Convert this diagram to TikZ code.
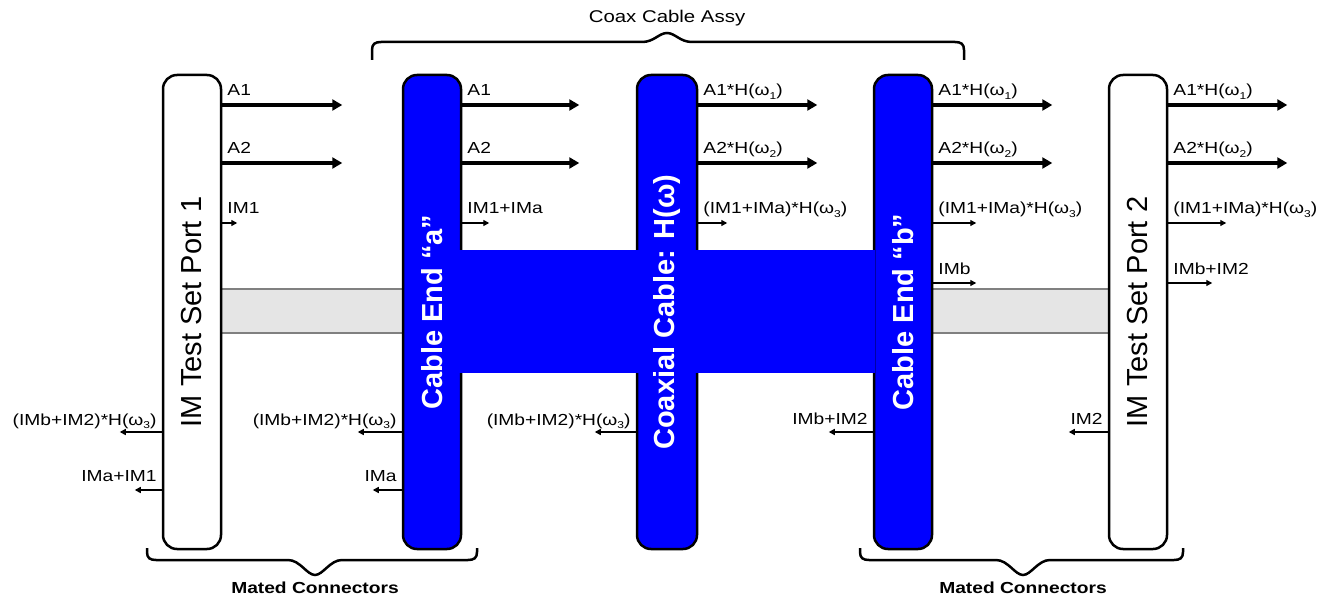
\documentclass[tikz,border=0pt]{standalone}
\usepackage{fontspec}
\setmainfont{Liberation Sans}
\newfontfamily\lbl[FakeStretch=1.2]{Liberation Sans}
\usetikzlibrary{arrows.meta}
\newcommand\wsub[1]{\raisebox{-0.4ex}{\fontsize{10}{10}\selectfont #1}}
\begin{document}
\begin{tikzpicture}[x=1pt,y=-1pt,
  port/.style={draw=black, line width=2.5pt, fill=white, rounded corners=14pt,
    minimum width=58pt, minimum height=474pt, inner sep=0pt,
    font=\fontsize{29}{29}\selectfont},
  cend/.style={port, fill=blue, text=white, font=\bfseries\fontsize{29}{29}\selectfont},
  ctext/.style={text=white, inner sep=0pt, font=\bfseries\fontsize{29}{29}\selectfont},
  big/.style={line width=4pt, -{Triangle[length=10pt,width=11pt]}},
  sml/.style={line width=1.3pt, -{Triangle[length=6pt,width=6pt]}},
  lft/.style={line width=1.8pt, -{Triangle[length=6pt,width=6pt]}},
  lab/.style={font=\lbl\fontsize{16}{16}\selectfont, inner sep=0pt},
  rl/.style={lab, anchor=base west, xshift=5pt},
  ll/.style={lab, anchor=base east, xshift=-5pt},
  brc/.style={line width=2.5pt},
  gline/.style={draw=gray, line width=1.2pt},
  ttl/.style={font=\lbl\fontsize{17}{17}\selectfont, inner sep=0pt},
  mtl/.style={font=\lbl\bfseries\fontsize{16}{16}\selectfont, inner sep=0pt}]
\useasboundingbox (0,0) rectangle (1327,596);

% grey connector bands
\fill[gray!20] (221,289) rectangle (403,333);
\draw[gline] (221,289) -- (403,289) (221,333) -- (403,333);
\fill[gray!20] (933,289) rectangle (1108,333);
\draw[gline] (933,289) -- (1108,289) (933,333) -- (1108,333);

% boxes
\node[port] (p1) at (192,312) {\rotatebox{90}{IM Test Set Port 1}};
\node[cend] (ca) at (432,312) {\rotatebox{90}{Cable End ``a''}};
\node[cend, minimum width=60pt] (cx) at (667,312) {};
\node[cend] (cb) at (903,312) {\rotatebox{90}{Cable End ``b''}};
\node[port] (p2) at (1138,312) {\rotatebox{90}{IM Test Set Port 2}};

% blue cable band
\fill[blue] (459,250) rectangle (875,373);
\node[ctext] (cxt) at (cx.center) {\rotatebox{90}{Coaxial Cable: H(ω)}};

% ---- Port 1 outputs
\draw[big] (p1.east |- 0,105) -- ++(120,0);
\draw[big] (p1.east |- 0,163) -- ++(120,0);
\draw[sml] (p1.east |- 0,223) -- ++(15,0);
\node[rl] at (p1.east |- 0,96) {A1};
\node[rl] at (p1.east |- 0,154) {A2};
\node[rl] at (p1.east |- 0,214) {IM1};
\draw[lft] (p1.west |- 0,432) -- ++(-42,0);
\draw[lft] (p1.west |- 0,490) -- ++(-27,0);
\node[ll] at (p1.west |- 0,425) {(IMb+IM2)*H(ω\wsub{3})};
\node[ll] at (p1.west |- 0,481) {IMa+IM1};

% ---- Cable end a
\draw[big] (ca.east |- 0,105) -- ++(117,0);
\draw[big] (ca.east |- 0,163) -- ++(117,0);
\draw[sml] (ca.east |- 0,223) -- ++(27,0);
\node[rl] at (ca.east |- 0,96) {A1};
\node[rl] at (ca.east |- 0,154) {A2};
\node[rl] at (ca.east |- 0,214) {IM1+IMa};
\draw[lft] (ca.west |- 0,432) -- ++(-44,0);
\draw[lft] (ca.west |- 0,490) -- ++(-29,0);
\node[ll] at (ca.west |- 0,425) {(IMb+IM2)*H(ω\wsub{3})};
\node[ll] at (ca.west |- 0,481) {IMa};

% ---- Coaxial cable
\draw[big] (cx.east |- 0,105) -- ++(119,0);
\draw[big] (cx.east |- 0,163) -- ++(119,0);
\draw[sml] (cx.east |- 0,223) -- ++(29,0);
\node[rl] at (cx.east |- 0,96) {A1*H(ω\wsub{1})};
\node[rl] at (cx.east |- 0,154) {A2*H(ω\wsub{2})};
\node[rl] at (cx.east |- 0,214) {(IM1+IMa)*H(ω\wsub{3})};
\draw[lft] (cx.west |- 0,432) -- ++(-41,0);
\node[ll] at (cx.west |- 0,425) {(IMb+IM2)*H(ω\wsub{3})};

% ---- Cable end b
\draw[big] (cb.east |- 0,105) -- ++(119,0);
\draw[big] (cb.east |- 0,163) -- ++(119,0);
\draw[sml] (cb.east |- 0,223) -- ++(43,0);
\draw[sml] (cb.east |- 0,283) -- ++(43,0);
\node[rl] at (cb.east |- 0,96) {A1*H(ω\wsub{1})};
\node[rl] at (cb.east |- 0,154) {A2*H(ω\wsub{2})};
\node[rl] at (cb.east |- 0,214) {(IM1+IMa)*H(ω\wsub{3})};
\node[rl] at (cb.east |- 0,274) {IMb};
\draw[lft] (cb.west |- 0,432) -- ++(-44,0);
\node[ll] at (cb.west |- 0,424) {IMb+IM2};

% ---- Port 2
\draw[big] (p2.east |- 0,105) -- ++(119,0);
\draw[big] (p2.east |- 0,163) -- ++(119,0);
\draw[sml] (p2.east |- 0,223) -- ++(58,0);
\draw[sml] (p2.east |- 0,283) -- ++(44,0);
\node[rl] at (p2.east |- 0,96) {A1*H(ω\wsub{1})};
\node[rl] at (p2.east |- 0,154) {A2*H(ω\wsub{2})};
\node[rl] at (p2.east |- 0,214) {(IM1+IMa)*H(ω\wsub{3})};
\node[rl] at (p2.east |- 0,274) {IMb+IM2};
\draw[lft] (p2.west |- 0,432) -- ++(-39,0);
\node[ll] at (p2.west |- 0,424) {IM2};

% ---- braces
\draw[brc] (372,60) -- (372,50) .. controls (372,44) and (375,42) .. (381,42)
  -- (642,42) .. controls (654,42) and (659,33) .. (667,33)
  .. controls (675,33) and (680,42) .. (692,42)
  -- (955,42) .. controls (961,42) and (964,44) .. (964,50) -- (964,60);
\node[ttl] (tassy) at (667,18) {Coax Cable Assy};

\draw[brc] (147,548) -- (147,552) .. controls (147,558) and (150,560) .. (156,560)
  -- (288,560) .. controls (300,560) and (307,575) .. (315,575)
  .. controls (323,575) and (330,560) .. (342,560)
  -- (468,560) .. controls (474,560) and (477,558) .. (477,552) -- (477,548);
\node[mtl] (m1) at (315,588) {Mated Connectors};

\draw[brc] (860,548) -- (860,552) .. controls (860,558) and (863,560) .. (869,560)
  -- (996,560) .. controls (1008,560) and (1015,575) .. (1023,575)
  .. controls (1031,575) and (1038,560) .. (1050,560)
  -- (1174,560) .. controls (1180,560) and (1183,558) .. (1183,552) -- (1183,548);
\node[mtl] (m2) at (1023,588) {Mated Connectors};
\end{tikzpicture}
\end{document}
